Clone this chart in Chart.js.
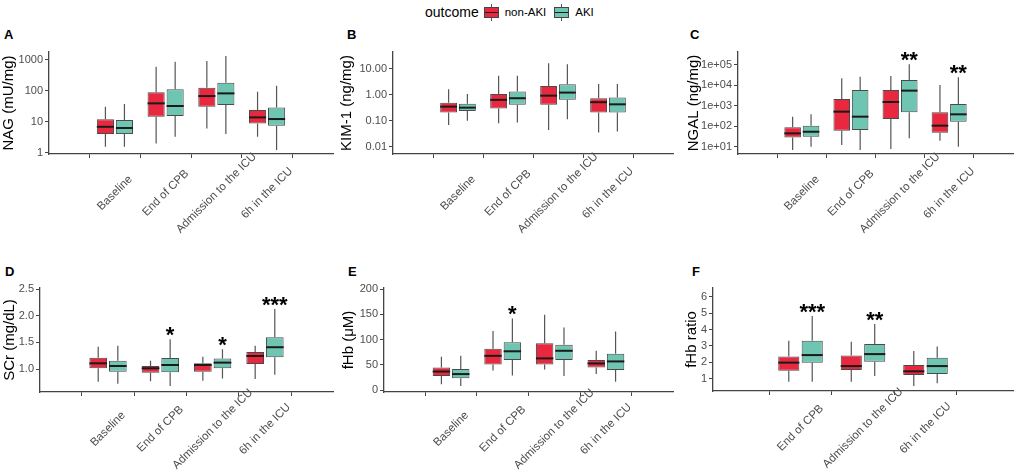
<!DOCTYPE html>
<html>
<head>
<meta charset="utf-8">
<script src="https://cdn.jsdelivr.net/npm/chart.js@4/dist/chart.umd.min.js"></script>
<style>
body { margin: 0; background: #fff; width: 1021px; height: 472px; position: relative; overflow: hidden; font-family: "Liberation Sans", Arial, sans-serif; }
canvas { position: absolute; }
.tag { position: absolute; font-weight: bold; font-size: 13px; color: #000; line-height: 14px; }
.legend { position: absolute; left: 425px; top: 3px; height: 18px; display: flex; align-items: center; }
.legend .ltitle { font-size: 14px; color: #000; margin-right: 5px; }
.legend .lab { font-size: 11.5px; color: #000; margin-right: 8px; }
.key { position: relative; width: 13px; height: 9px; border: 1px solid #444; margin-right: 6px; }
.key::before { content: ''; position: absolute; left: 0; right: 0; top: 4px; height: 1.5px; background: #1a1a1a; }
.key::after { content: ''; position: absolute; left: 6px; width: 1px; top: -4px; height: 17px; background: #555; z-index: -1; }
.key.red { background: #e8283f; }
.key.teal { background: #6dc5b2; }
</style>
</head>
<body>
<div class="legend">
  <span class="ltitle">outcome</span>
  <span class="key red"></span><span class="lab">non-AKI</span>
  <span class="key teal"></span><span class="lab">AKI</span>
</div>
<div class="tag" style="left:4px;top:28px">A</div>
<div class="tag" style="left:347px;top:28px">B</div>
<div class="tag" style="left:690px;top:28px">C</div>
<div class="tag" style="left:5px;top:265px">D</div>
<div class="tag" style="left:348px;top:265px">E</div>
<div class="tag" style="left:692px;top:265px">F</div>
<canvas id="chartA"></canvas>
<canvas id="chartB"></canvas>
<canvas id="chartC"></canvas>
<canvas id="chartD"></canvas>
<canvas id="chartE"></canvas>
<canvas id="chartF"></canvas>
<script>
// categorias
const timepoints = ['Baseline', 'End of CPB', 'Admission to the ICU', '6h in the ICU'];
const timepointsF = ['End of CPB', 'Admission to the ICU', '6h in the ICU'];
const groups = ['non-AKI', 'AKI'];

// cada caja: [min, q1, mediana, q3, max]
const nagNonAki = [[1.56, 4.0, 6.9, 12, 30.8], [2.0, 14.6, 39.5, 89.7, 605], [6.1, 30.8, 68, 126, 926], [3.3, 8.9, 13.9, 24, 94]];
const nagAki = [[1.56, 4.0, 6.3, 11.4, 37.6], [3.3, 15.4, 32.4, 112, 881], [4.0, 34.9, 83, 184, 1343], [1.22, 7.5, 12.3, 29.3, 147]];
const kimNonAki = [[0.069, 0.21, 0.35, 0.50, 1.64], [0.080, 0.30, 0.64, 1.08, 5.4], [0.044, 0.41, 0.93, 2.2, 16.6], [0.035, 0.206, 0.52, 0.74, 2.64]];
const kimAki = [[0.10, 0.24, 0.32, 0.45, 1.08], [0.085, 0.41, 0.74, 1.33, 5.4], [0.114, 0.64, 1.22, 2.56, 15.1], [0.038, 0.21, 0.43, 0.78, 2.64]];
const ngalNonAki = [[6.9, 28.6, 45, 88.5, 294], [12, 61, 518, 2160, 22200], [7.7, 226, 1540, 5970, 28700], [19.7, 48.5, 107, 481, 10500]];
const ngalAki = [[10, 31, 54, 107, 384], [6.9, 65, 295, 5970, 26800], [25.6, 481, 5540, 18400, 108000], [10, 167, 384, 1230, 24900]];
const scrNonAki = [[0.76, 1.013, 1.107, 1.21, 1.42], [0.77, 0.93, 1.013, 1.056, 1.157], [0.78, 0.95, 1.075, 1.107, 1.23], [0.81, 1.094, 1.245, 1.32, 1.44]];
const scrAki = [[0.72, 0.95, 1.056, 1.157, 1.44], [0.68, 0.94, 1.075, 1.207, 1.56], [0.82, 1.013, 1.12, 1.2, 1.37], [0.89, 1.22, 1.41, 1.6, 2.13]];
const fhbNonAki = [[12, 28, 37, 45, 66], [39, 51, 68, 82, 117], [41, 51, 63, 93, 149], [32, 45, 53, 60, 78]];
const fhbAki = [[8.5, 24, 32, 42, 68], [29, 60, 77, 95, 142], [28, 60, 78, 90, 124], [17, 40, 57, 72, 116]];
const ratioNonAki = [[0.82, 1.49, 1.98, 2.36, 3.32], [0.82, 1.53, 1.77, 2.42, 3.26], [0.55, 1.22, 1.45, 1.83, 2.69]];
const ratioAki = [[0.82, 1.98, 2.44, 3.32, 4.82], [1.16, 2.04, 2.5, 3.11, 4.33], [0.72, 1.28, 1.77, 2.28, 2.97]];

// significancia (sobre la caja AKI)
const nagStars = ['', '', '', ''];
const kimStars = ['', '', '', ''];
const ngalStars = ['', '', '**', '**'];
const scrStars = ['', '*', '*', '***'];
const fhbStars = ['', '*', '', ''];
const ratioStars = ['***', '**', ''];

// ticks del eje y
const nagTicks = [1, 10, 100, 1000];
const kimTicks = [0.01, 0.1, 1, 10];
const ngalTicks = [10, 100, 1000, 10000, 100000];
const scrTicks = [1.0, 1.5, 2.0, 2.5];
const fhbTicks = [0, 50, 100, 150, 200];
const ratioTicks = [1, 2, 3, 4, 5, 6];

const RED = '#e8283f';
const TEAL = '#6dc5b2';
const FONT = "'Liberation Sans', Arial, sans-serif";

// Dibuja bigotes, medianas y asteriscos usando las escalas del grafico
const boxPlugin = {
    id: 'boxWhiskers',
    beforeDatasetsDraw(chart) {
        const y = chart.scales.y;
        const ctx = chart.ctx;
        ctx.save();
        chart.data.datasets.forEach((ds, d) => {
            chart.getDatasetMeta(d).data.forEach((bar, i) => {
                const s = ds.stats[i];
                ctx.strokeStyle = '#555';
                ctx.lineWidth = 1.2;
                ctx.beginPath();
                ctx.moveTo(bar.x, y.getPixelForValue(s[0]));
                ctx.lineTo(bar.x, y.getPixelForValue(s[1]));
                ctx.moveTo(bar.x, y.getPixelForValue(s[3]));
                ctx.lineTo(bar.x, y.getPixelForValue(s[4]));
                ctx.stroke();
            });
        });
        ctx.restore();
    },
    afterDatasetsDraw(chart) {
        const y = chart.scales.y;
        const ctx = chart.ctx;
        ctx.save();
        chart.data.datasets.forEach((ds, d) => {
            chart.getDatasetMeta(d).data.forEach((bar, i) => {
                const s = ds.stats[i];
                const my = y.getPixelForValue(s[2]);
                ctx.strokeStyle = '#1a1a1a';
                ctx.lineWidth = 2;
                ctx.beginPath();
                ctx.moveTo(bar.x - bar.width / 2, my);
                ctx.lineTo(bar.x + bar.width / 2, my);
                ctx.stroke();
                if (ds.stars && ds.stars[i]) {
                    ctx.fillStyle = '#000';
                    ctx.font = 'bold 22px ' + FONT;
                    ctx.textAlign = 'center';
                    ctx.textBaseline = 'alphabetic';
                    ctx.fillText(ds.stars[i], bar.x, y.getPixelForValue(s[4]) + 3);
                }
            });
        });
        ctx.restore();
    },
    // etiquetas del eje x giradas 45 grados, centradas bajo cada tick
    afterDraw(chart) {
        const xs = chart.scales.x;
        const ctx = chart.ctx;
        ctx.save();
        ctx.fillStyle = '#4d4d4d';
        ctx.font = '11.5px ' + FONT;
        ctx.textAlign = 'center';
        ctx.textBaseline = 'middle';
        chart.options.catLabels.forEach((lab, i) => {
            ctx.save();
            ctx.translate(xs.getPixelForValue(i), xs.top + chart.options.labelDrop);
            ctx.rotate(-Math.PI / 4);
            ctx.fillText(lab, 0, 0);
            ctx.restore();
        });
        ctx.restore();
    }
};

const makePanel = (id, geo, labels, nonAki, aki, stars, yOpts) => {
    const canvas = document.getElementById(id);
    canvas.style.left = geo.canvas[0] + 'px';
    canvas.style.top = geo.canvas[1] + 'px';
    canvas.width = geo.canvas[2];
    canvas.height = geo.canvas[3];
    canvas.style.width = geo.canvas[2] + 'px';
    canvas.style.height = geo.canvas[3] + 'px';

    const yWidth = geo.area[0] - geo.canvas[0];
    const xHeight = geo.canvas[1] + geo.canvas[3] - geo.area[3];
    const padTop = geo.area[1] - geo.canvas[1];
    const padRight = geo.canvas[0] + geo.canvas[2] - geo.area[2];

    const toBars = arr => arr.map((s, i) => ({ x: i, y: [s[1], s[3]] }));

    return new Chart(canvas, {
        type: 'bar',
        data: {
            datasets: [
                { label: groups[0], data: toBars(nonAki), stats: nonAki, backgroundColor: RED },
                { label: groups[1], data: toBars(aki), stats: aki, stars: stars, backgroundColor: TEAL }
            ]
        },
        options: {
            responsive: false,
            animation: false,
            events: [],
            catLabels: labels,
            labelDrop: geo.drop,
            layout: { padding: { top: padTop, right: padRight, left: 0, bottom: 0 } },
            datasets: {
                bar: {
                    categoryPercentage: 0.75,
                    barPercentage: 0.9,
                    borderColor: '#4a4a4a',
                    borderWidth: 1,
                    borderSkipped: false
                }
            },
            plugins: { legend: { display: false }, tooltip: { enabled: false } },
            scales: {
                x: {
                    type: 'linear',
                    min: -0.6,
                    max: labels.length - 0.4,
                    afterBuildTicks: s => { s.ticks = labels.map((l, i) => ({ value: i })); },
                    afterFit: s => { s.height = xHeight; },
                    ticks: { display: false },
                    grid: { drawOnChartArea: false, drawTicks: true, tickLength: 4, color: '#444' },
                    border: { color: '#444', width: 1.3 }
                },
                y: {
                    type: yOpts.type,
                    min: yOpts.min,
                    max: yOpts.max,
                    afterBuildTicks: s => { s.ticks = yOpts.ticks.map(v => ({ value: v })); },
                    afterFit: s => { s.width = yWidth; },
                    ticks: {
                        padding: 2, color: '#4d4d4d', font: { family: FONT, size: 11 },
                        callback: yOpts.format
                    },
                    grid: { drawOnChartArea: false, drawTicks: true, tickLength: 4, color: '#444' },
                    border: { color: '#444', width: 1.3 },
                    title: {
                        display: true, text: yOpts.title, color: '#000',
                        font: { family: FONT, size: 15 }, padding: 0
                    }
                }
            }
        },
        plugins: [boxPlugin]
    });
};

// geometria: canvas [left, top, w, h], area [left, top, right, bottom]
makePanel('chartA', { canvas: [0, 25, 340, 210], area: [49, 52, 333, 154], drop: 39 }, timepoints, nagNonAki, nagAki, nagStars,
    { type: 'logarithmic', min: 0.91, max: 1810, ticks: nagTicks, title: 'NAG (mU/mg)', format: v => String(v) });
makePanel('chartB', { canvas: [338, 25, 342, 210], area: [393, 52, 673, 154], drop: 39 }, timepoints, kimNonAki, kimAki, kimStars,
    { type: 'logarithmic', min: 0.0052, max: 45, ticks: kimTicks, title: 'KIM-1 (ng/mg)', format: v => v.toFixed(2) });
makePanel('chartC', { canvas: [685, 25, 336, 210], area: [738, 52, 1013, 154], drop: 39 }, timepoints, ngalNonAki, ngalAki, ngalStars,
    { type: 'logarithmic', min: 4.4, max: 430000, ticks: ngalTicks, title: 'NGAL (ng/mg)',
      format: v => '1e+' + String(Math.round(Math.log10(v))).padStart(2, '0') });
makePanel('chartD', { canvas: [1, 262, 339, 210], area: [40, 288, 333, 392], drop: 37 }, timepoints, scrNonAki, scrAki, scrStars,
    { type: 'linear', min: 0.567, max: 2.525, ticks: scrTicks, title: 'SCr (mg/dL)', format: v => v.toFixed(1) });
makePanel('chartE', { canvas: [340, 262, 340, 210], area: [384, 288, 673, 392], drop: 37 }, timepoints, fhbNonAki, fhbAki, fhbStars,
    { type: 'linear', min: -3.4, max: 202, ticks: fhbTicks, title: 'fHb (μM)', format: v => String(v) });
makePanel('chartF', { canvas: [683, 262, 338, 210], area: [713, 288, 1013, 391], drop: 37 }, timepointsF, ratioNonAki, ratioAki, ratioStars,
    { type: 'linear', min: 0.25, max: 6.53, ticks: ratioTicks, title: 'fHb ratio', format: v => String(v) });
</script>
</body>
</html>
